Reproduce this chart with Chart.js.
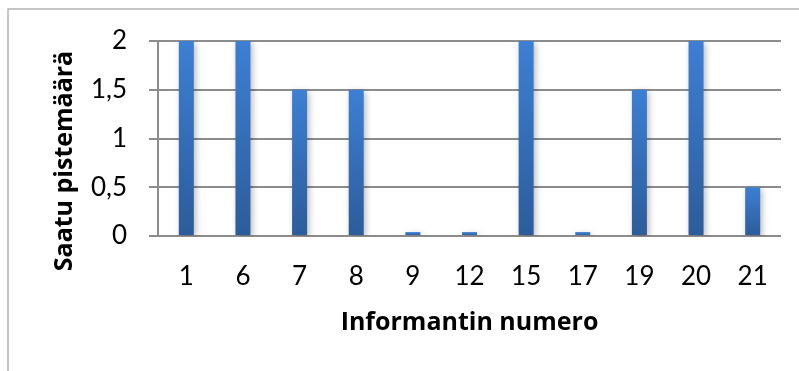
<!DOCTYPE html>
<html>
<head>
<meta charset="utf-8">
<script src="https://cdn.jsdelivr.net/npm/chart.js@4"></script>
<style>
  html, body { margin: 0; padding: 0; background: #ffffff; }
  #wrap { width: 799px; height: 371px; position: relative; }
</style>
</head>
<body>
<div id="wrap"><canvas id="chart" width="799" height="371"></canvas></div>
<script>
// Informants and the points each one scored
const informants = ['1', '6', '7', '8', '9', '12', '15', '17', '19', '20', '21'];
const points = [2, 2, 1.5, 1.5, 0.04, 0.04, 2, 0.04, 1.5, 2, 0.5];
const yTicks = [0, 0.5, 1, 1.5, 2];
const xTitle = 'Informantin numero';
const yTitle = 'Saatu pistemäärä';

const FONT = "Lato, 'Open Sans', 'Liberation Sans', sans-serif";
const TITLE_FONT = "'Open Sans', 'DejaVu Sans', sans-serif";
const GRID = '#8c8c8c';

// per-bar vertical gradient, lighter at the top
function barFill(ctx) {
  const chart = ctx.chart;
  const y = chart.scales.y;
  if (!chart.chartArea || !y || ctx.raw === undefined) return '#3470be';
  const top = y.getPixelForValue(ctx.raw);
  const base = y.getPixelForValue(0);
  if (!isFinite(top) || !isFinite(base) || top === base) return '#3470be';
  const g = chart.ctx.createLinearGradient(0, top, 0, base);
  g.addColorStop(0, '#3d7fd3');
  g.addColorStop(1, '#2c5c9a');
  return g;
}

// outer frame, rotated y title and bar shadows
const decor = {
  id: 'decor',
  beforeDraw(chart) {
    const c = chart.ctx;
    c.save();
    c.fillStyle = '#ffffff';
    c.fillRect(0, 0, chart.width, chart.height);
    c.strokeStyle = '#b4b4b4';
    c.lineWidth = 1.5;
    c.strokeRect(8, 9, 1000, 1000);
    c.restore();
  },
  afterDraw(chart) {
    const c = chart.ctx;
    c.save();
    c.translate(65, 161);
    c.rotate(-Math.PI / 2);
    c.font = "bold 25px " + TITLE_FONT;
    c.fillStyle = '#000000';
    c.textAlign = 'center';
    c.textBaseline = 'middle';
    c.fillText(yTitle, 0, 0);
    c.restore();
  },
  beforeDatasetsDraw(chart) {
    const c = chart.ctx;
    c.save();
    c.shadowColor = 'rgba(0,0,0,0.28)';
    c.shadowBlur = 6;
    c.shadowOffsetX = 2;
    c.shadowOffsetY = 2;
  },
  afterDatasetsDraw(chart) {
    chart.ctx.restore();
  }
};

new Chart(document.getElementById('chart'), {
  type: 'bar',
  data: {
    labels: informants,
    datasets: [{
      data: points,
      backgroundColor: barFill,
      borderWidth: 0,
      categoryPercentage: 1,
      barPercentage: 0.265
    }]
  },
  options: {
    responsive: false,
    animation: false,
    events: [],
    layout: { padding: { left: 0, right: 18, top: 41, bottom: 0 } },
    plugins: { legend: { display: false }, tooltip: { enabled: false } },
    scales: {
      x: {
        grid: { display: false },
        border: { display: false },
        ticks: { color: '#000000', font: { family: FONT, size: 26 }, padding: 17, maxRotation: 0 },
        title: {
          display: true,
          text: xTitle,
          color: '#000000',
          font: { family: TITLE_FONT, size: 25, weight: 'bold' },
          padding: { top: 0, bottom: 33 }
        },
        afterFit(scale) { scale.height = 135; }
      },
      y: {
        min: 0,
        max: 2,
        afterBuildTicks(scale) { scale.ticks = yTicks.map(v => ({ value: v })); },
        grid: { color: GRID, lineWidth: 2, tickLength: 9, drawTicks: true },
        border: { display: true, color: GRID, width: 2 },
        ticks: {
          color: '#000000',
          font: { family: FONT, size: 26 },
          padding: 22,
          callback: v => String(v).replace('.', ',')
        },
        afterFit(scale) { scale.width = 158; }
      }
    }
  },
  plugins: [decor]
});
</script>
</body>
</html>
